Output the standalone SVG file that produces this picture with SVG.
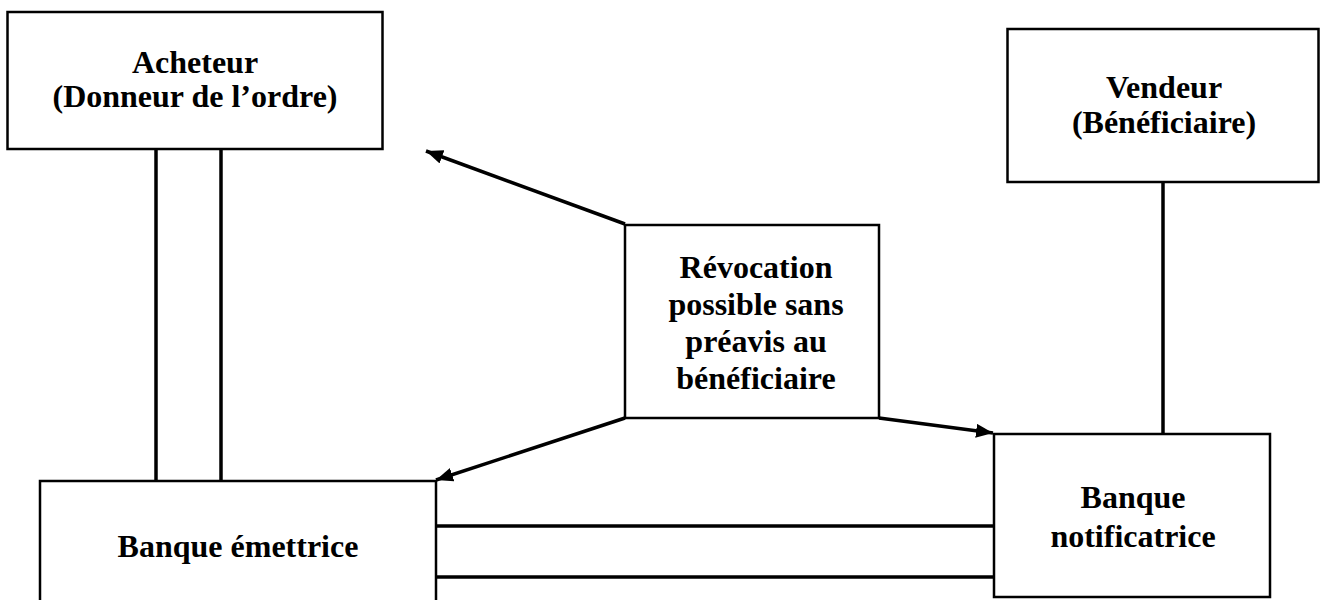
<svg xmlns="http://www.w3.org/2000/svg" width="1321" height="600" viewBox="0 0 1321 600">
<style>
.box{fill:#fff;stroke:#000;stroke-width:2.5}
.t{font-family:"Liberation Serif","Times New Roman",serif;font-weight:bold;font-size:32px;fill:#000;text-anchor:middle}
.ln{stroke:#000;stroke-width:3.5;fill:none}
.ar{stroke:#000;stroke-width:3.5;fill:none;marker-end:url(#ah)}
</style>
<defs>
<marker id="ah" markerUnits="userSpaceOnUse" markerWidth="20" markerHeight="16" refX="17" refY="7" orient="auto">
<path d="M0,0 L17,7 L0,14 Z" fill="#000"/>
</marker>
</defs>
<rect width="1321" height="600" fill="#fff"/>
<g id="connectors">
<line class="ln" x1="156" y1="149" x2="156" y2="481"/>
<line class="ln" x1="221" y1="149" x2="221" y2="481"/>
<line class="ln" x1="1163" y1="182" x2="1163" y2="434"/>
<line class="ln" x1="436" y1="526" x2="994" y2="526"/>
<line class="ln" x1="436" y1="577" x2="994" y2="577"/>
<line class="ar" x1="625" y1="224" x2="426" y2="151"/>
<line class="ar" x1="625" y1="418" x2="436" y2="480"/>
<line class="ar" x1="879" y1="418" x2="993" y2="433"/>
</g>
<g id="acheteur">
<rect class="box" x="7.5" y="12" width="375" height="137"/>
<text class="t" x="195" y="73">Acheteur</text>
<text class="t" x="195" y="107">(Donneur de l’ordre)</text>
</g>
<g id="vendeur">
<rect class="box" x="1007.5" y="29" width="311" height="153"/>
<text class="t" x="1164" y="98">Vendeur</text>
<text class="t" x="1164" y="133">(Bénéficiaire)</text>
</g>
<g id="revocation">
<rect class="box" x="625" y="225" width="254" height="193"/>
<text class="t" x="756" y="278">Révocation</text>
<text class="t" x="756" y="315">possible sans</text>
<text class="t" x="756" y="352">préavis au</text>
<text class="t" x="756" y="389">bénéficiaire</text>
</g>
<g id="emettrice">
<rect class="box" x="40" y="481" width="396" height="130"/>
<text class="t" x="238" y="557">Banque émettrice</text>
</g>
<g id="notificatrice">
<rect class="box" x="994" y="434" width="276" height="163"/>
<text class="t" x="1133" y="508">Banque</text>
<text class="t" x="1133" y="547">notificatrice</text>
</g>
</svg>
